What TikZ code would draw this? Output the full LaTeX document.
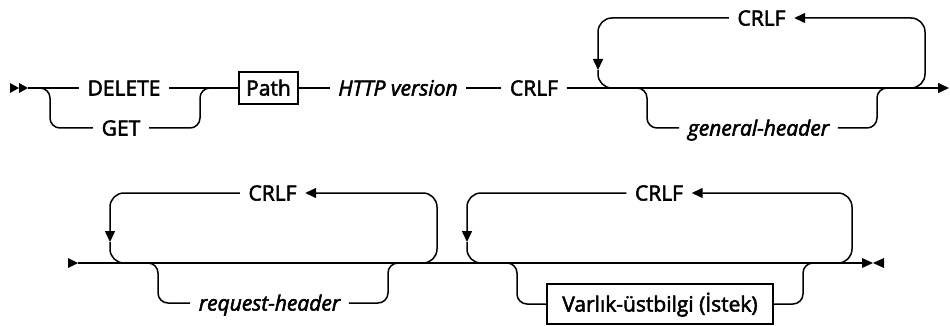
\documentclass[tikz,border=0pt]{standalone}
\usepackage{fontspec}
\setmainfont{Open Sans}[FakeBold=2.5]
\usetikzlibrary{arrows.meta,calc}

\begin{document}
\begin{tikzpicture}[x=1pt, y=-1pt, line width=1.5pt,
  rc/.style={rounded corners=10pt},
  rl/.style={rounded corners=14pt},
  term/.style={font=\fontsize{21}{24}\selectfont, inner xsep=8pt, inner ysep=0pt,
               text height=15pt, text depth=0pt},
  nterm/.style={term, font=\fontsize{21}{24}\selectfont\itshape},
  tbox/.style={term, draw, line width=1.3pt, inner xsep=6pt},
  tip/.style={-{Triangle[width=10pt,length=11pt]}}
]
  \useasboundingbox (0,0) rectangle (950,326);

  % Zeile 1
  \node[term] (del) at (124,88) {DELETE};
  \node[term] (get) at (121,128) {GET};
  \node[tbox, minimum width=59pt, minimum height=32pt] (path) at (268.5,88) {Path};
  \node[nterm] (ver) at (398,88) {HTTP version};
  \node[term] (crlf) at (534,88) {CRLF};
  \node[term] (rep1) at (761.5,18) {CRLF};
  \node[nterm] (gen) at (758.5,128) {general-header};

  \coordinate (s1) at (28,88);
  \coordinate (fork) at (40,88);
  \coordinate (join) at (210,88);
  \coordinate (end1) at (949,88);
  \coordinate (l1a) at (598,70);
  \coordinate (l1b) at (612,88);
  \coordinate (l1c) at (911,88);
  \coordinate (g1a) at (637,88);
  \coordinate (g1b) at (887,88);

  \fill (10,83) -- (19,88) -- (10,93) -- cycle;
  \fill (19,83) -- (28,88) -- (19,93) -- cycle;
  \draw (s1) -- (del.west);
  \draw[rc] (fork) -- ++(10,0) |- (get.west);
  \draw (del.east) -- (join);
  \draw[rc] (get.east) -| ([xshift=-10pt]join) -- (join);
  \draw (join) -- (path.west);
  \draw (path.east) -- (ver.west);
  \draw (ver.east) -- (crlf.west);
  \draw[tip] (crlf.east) -- (end1);
  % Wiederholung
  \draw[rl,tip] (l1c) -- ++(14,0) |- (rep1.east);
  \draw[rl,tip] (rep1.west) -| (l1a);
  \draw[rl] (l1a) |- (l1b);
  % optional
  \draw[rc] (g1a) -- ++(10,0) |- (gen.west);
  \draw[rc] (gen.east) -| ([xshift=-10pt]g1b) -- (g1b);

  % Zeile 2
  \node[term] (rep2) at (272.5,193) {CRLF};
  \node[nterm] (req) at (269.5,303) {request-header};
  \node[term] (rep3) at (659,193) {CRLF};
  \node[tbox, minimum width=226pt, minimum height=40pt] (ent) at (660,304) {Varlık-üstbilgi (İstek)};

  \coordinate (s2) at (78,263);
  \coordinate (end2) at (862,263);
  \coordinate (l2a) at (110,242);
  \coordinate (l2b) at (124,263);
  \coordinate (l2c) at (423,263);
  \coordinate (g2a) at (148,263);
  \coordinate (g2b) at (398,263);
  \coordinate (l3a) at (467,242);
  \coordinate (l3b) at (481,263);
  \coordinate (l3c) at (838,263);
  \coordinate (g3a) at (507,263);
  \coordinate (g3b) at (813,263);

  \fill (68,258) -- (78,263) -- (68,268) -- cycle;
  \draw (s2) -- (end2);
  \fill (862,258) -- (873,263) -- (862,268) -- cycle;
  \fill (884,258) -- (873,263) -- (884,268) -- cycle;
  % Wiederholung
  \draw[rl,tip] (l2c) -- ++(14,0) |- (rep2.east);
  \draw[rl,tip] (rep2.west) -| (l2a);
  \draw[rl] (l2a) |- (l2b);
  \draw[rl,tip] (l3c) -- ++(14,0) |- (rep3.east);
  \draw[rl,tip] (rep3.west) -| (l3a);
  \draw[rl] (l3a) |- (l3b);
  % optional
  \draw[rc] (g2a) -- ++(10,0) |- (req.west);
  \draw[rc] (req.east) -| ([xshift=-10pt]g2b) -- (g2b);
  \draw[rc] (g3a) -- ++(10,0) |- (ent.west);
  \draw[rc] (ent.east) -| ([xshift=-10pt]g3b) -- (g3b);
\end{tikzpicture}
\end{document}
